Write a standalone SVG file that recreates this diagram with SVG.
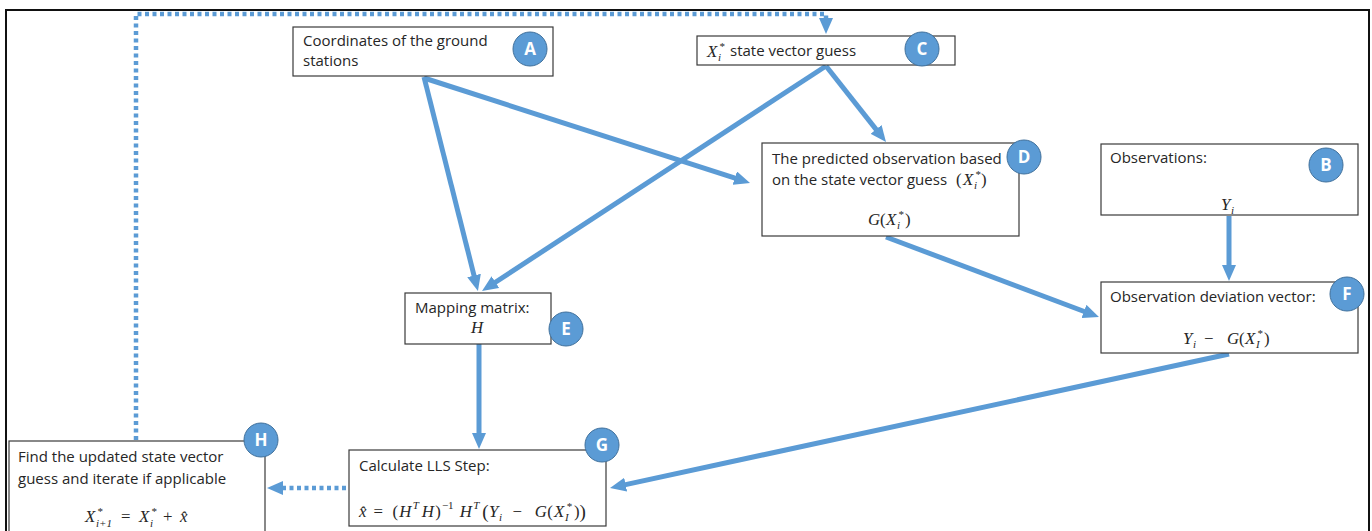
<svg xmlns="http://www.w3.org/2000/svg" width="1372" height="531" viewBox="0 0 1372 531">
<style>
.box{fill:#fff;stroke:#3a3a3a;stroke-width:1.2}
.t{font-family:"Open Sans","Liberation Sans",sans-serif;font-size:15px;fill:#262626}
.m{font-family:"Liberation Serif",serif;font-style:italic;font-size:16.8px;fill:#262626}
.mu{font-family:"Liberation Serif",serif;font-style:normal;font-size:16.8px;fill:#262626}
.s{font-size:11px}
.badge{fill:#5B9BD5;stroke:#41719C;stroke-width:1}
.bl{font-family:"Open Sans","Liberation Sans",sans-serif;font-size:17px;font-weight:bold;fill:#fff;text-anchor:middle}
.c{fill:none;stroke:#5B9BD5;stroke-width:5}
.d{fill:none;stroke:#5B9BD5;stroke-width:4.5;stroke-dasharray:4 3.5}
</style>
<defs>
<marker id="ah" markerUnits="userSpaceOnUse" markerWidth="16" markerHeight="14" refX="6" refY="7" orient="auto">
<path d="M0,0 L16,7 L0,14 z" fill="#5B9BD5"/>
</marker>
</defs>
<rect x="0" y="0" width="1372" height="531" fill="#fff"/>
<rect x="6" y="10" width="1363" height="530" fill="none" stroke="#111" stroke-width="2"/>

<g id="connectors">
<line class="c" x1="424" y1="77" x2="475.5" y2="281.3" marker-end="url(#ah)"/>
<line class="c" x1="424" y1="78" x2="740.5" y2="179.9" marker-end="url(#ah)"/>
<line class="c" x1="826" y1="66" x2="490.4" y2="285.5" marker-end="url(#ah)"/>
<line class="c" x1="826" y1="66" x2="879.8" y2="134.1" marker-end="url(#ah)"/>
<line class="c" x1="886" y1="237" x2="1089.6" y2="313.5" marker-end="url(#ah)"/>
<line class="c" x1="1229" y1="216" x2="1229" y2="271" marker-end="url(#ah)"/>
<line class="c" x1="479" y1="344" x2="479" y2="439" marker-end="url(#ah)"/>
<line class="c" x1="1229" y1="354" x2="619.8" y2="485.9" marker-end="url(#ah)"/>
<line class="d" x1="346" y1="488" x2="277" y2="488" marker-end="url(#ah)"/>
<path class="d" d="M136,440 V14 H826 V24" marker-end="url(#ah)"/>
</g>

<g id="node-A">
<rect class="box" x="293" y="27" width="260" height="49"/>
<text class="t" x="303" y="46">Coordinates of the ground</text>
<text class="t" x="303" y="66">stations</text>
<circle class="badge" cx="530" cy="49" r="17"/>
<text class="bl" x="530" y="55">A</text>
</g>

<g id="node-C">
<rect class="box" x="697" y="36" width="258" height="29"/>
<text class="m" x="707" y="57">X</text>
<text class="m s" x="719" y="50">*</text>
<text class="m s" x="718" y="61">i</text>
<text class="t" x="730" y="56">state vector guess</text>
<circle class="badge" cx="922" cy="49" r="17"/>
<text class="bl" x="922" y="55">C</text>
</g>

<g id="node-D">
<rect class="box" x="762" y="143" width="257" height="93"/>
<text class="t" x="772" y="164">The predicted observation based</text>
<text class="t" x="772" y="185">on the state vector guess</text>
<text class="mu" x="956" y="185">(</text>
<text class="m" x="963" y="185">X</text>
<text class="m s" x="975" y="178">*</text>
<text class="m s" x="974" y="189">i</text>
<text class="mu" x="981" y="185">)</text>
<text class="m" x="868" y="225">G</text>
<text class="mu" x="880" y="225">(</text>
<text class="m" x="886" y="225">X</text>
<text class="m s" x="898" y="218">*</text>
<text class="m s" x="897" y="229">i</text>
<text class="mu" x="905" y="225">)</text>
<circle class="badge" cx="1024" cy="157" r="17"/>
<text class="bl" x="1024" y="163">D</text>
</g>

<g id="node-B">
<rect class="box" x="1101" y="144" width="257" height="71"/>
<text class="t" x="1110" y="163">Observations:</text>
<text class="m" x="1221" y="210">Y</text>
<text class="m s" x="1231" y="214">i</text>
<circle class="badge" cx="1326" cy="165" r="17"/>
<text class="bl" x="1326" y="171">B</text>
</g>

<g id="node-F">
<rect class="box" x="1101" y="282" width="257" height="71"/>
<text class="t" x="1110" y="302">Observation deviation vector:</text>
<text class="m" x="1183" y="344">Y</text>
<text class="m s" x="1193" y="348">i</text>
<text class="mu" x="1204" y="344">−</text>
<text class="m" x="1227" y="344">G</text>
<text class="mu" x="1239" y="344">(</text>
<text class="m" x="1245" y="344">X</text>
<text class="m s" x="1257" y="337">*</text>
<text class="m s" x="1256" y="348">I</text>
<text class="mu" x="1264" y="344">)</text>
<circle class="badge" cx="1347" cy="294" r="17"/>
<text class="bl" x="1347" y="300">F</text>
</g>

<g id="node-E">
<rect class="box" x="405" y="293" width="146" height="51"/>
<text class="t" x="415" y="313">Mapping matrix:</text>
<text class="m" x="471" y="333">H</text>
<circle class="badge" cx="566" cy="329" r="17"/>
<text class="bl" x="566" y="335">E</text>
</g>

<g id="node-G">
<rect class="box" x="349" y="450" width="257" height="76"/>
<text class="t" x="359" y="471">Calculate LLS Step:</text>
<text class="m" x="359" y="517">x̂</text>
<text class="mu" x="373.6" y="517">=</text>
<text class="mu" x="392.6" y="517">(</text>
<text class="m" x="399.3" y="517">H</text>
<text class="m s" x="412.8" y="509">T</text>
<text class="m" x="421.7" y="517">H</text>
<text class="mu" x="435.2" y="517">)</text>
<text class="mu s" x="441.9" y="509">−1</text>
<text class="m" x="459.8" y="517">H</text>
<text class="m s" x="473.2" y="509">T</text>
<text class="mu" x="482.2" y="518" style="font-size:19px">(</text>
<text class="m" x="488.9" y="517">Y</text>
<text class="m s" x="499" y="521">i</text>
<text class="mu" x="512.4" y="517">−</text>
<text class="m" x="534.8" y="517">G</text>
<text class="mu" x="547.2" y="517">(</text>
<text class="m" x="553.9" y="517">X</text>
<text class="m s" x="566.2" y="510">*</text>
<text class="m s" x="565.1" y="521">I</text>
<text class="mu" x="574" y="517">)</text>
<text class="mu" x="579.6" y="518" style="font-size:19px">)</text>
<circle class="badge" cx="602" cy="445" r="17"/>
<text class="bl" x="602" y="451">G</text>
</g>

<g id="node-H">
<rect class="box" x="9" y="441" width="256" height="100"/>
<text class="t" x="18" y="462">Find the updated state vector</text>
<text class="t" x="18" y="484">guess and iterate if applicable</text>
<text class="m" x="85" y="522">X</text>
<text class="m s" x="97" y="515">*</text>
<text class="m s" x="96" y="527">i+1</text>
<text class="mu" x="121" y="522">=</text>
<text class="m" x="139" y="522">X</text>
<text class="m s" x="151" y="515">*</text>
<text class="m s" x="150" y="527">i</text>
<text class="mu" x="163" y="522">+</text>
<text class="m" x="180" y="522">x̂</text>
<circle class="badge" cx="261" cy="440" r="17"/>
<text class="bl" x="261" y="446">H</text>
</g>
</svg>
